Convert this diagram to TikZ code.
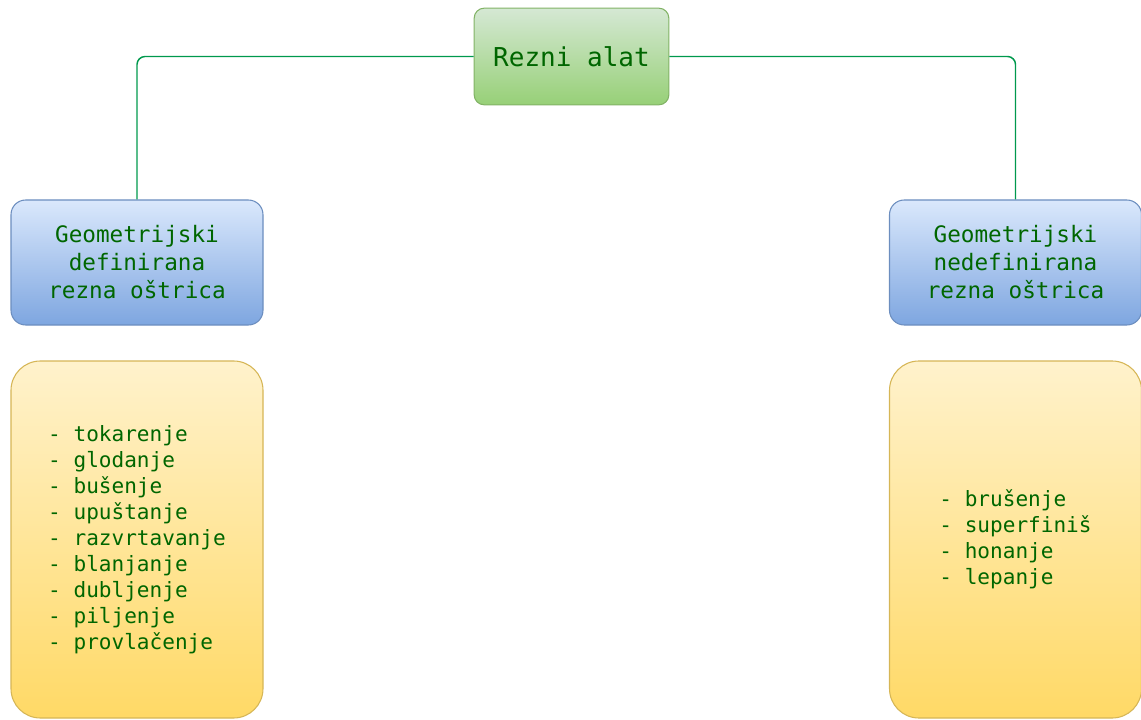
\documentclass[tikz,border=0pt]{standalone}
\usepackage{fontspec}
\setmonofont{DejaVu Sans Mono}
\usepackage{tikz}

\definecolor{txtgreen}{RGB}{0,102,0}
\definecolor{linegreen}{RGB}{0,153,77}
\tikzset{
  rootbox/.style={draw={rgb,255:red,130;green,179;blue,102}, line width=0.8pt, top color={rgb,255:red,213;green,232;blue,212}, bottom color={rgb,255:red,151;green,208;blue,119}, rounded corners=7.5pt, minimum width=146pt, minimum height=72.5pt, inner sep=0pt, text=txtgreen, font=\ttfamily\fontsize{19.5}{23}\selectfont},
  kindbox/.style={draw={rgb,255:red,108;green,142;blue,191}, line width=0.8pt, top color={rgb,255:red,218;green,232;blue,252}, bottom color={rgb,255:red,126;green,166;blue,224}, rounded corners=11pt, minimum width=189pt, minimum height=93.75pt, inner sep=0pt, align=center, text=txtgreen, font=\ttfamily\fontsize{17}{21}\selectfont},
  listbox/.style={draw={rgb,255:red,214;green,182;blue,86}, line width=0.8pt, top color={rgb,255:red,255;green,242;blue,204}, bottom color={rgb,255:red,255;green,217;blue,102}, rounded corners=22pt, minimum width=189pt, minimum height=267.75pt, inner sep=0pt, align=left, text=txtgreen, font=\ttfamily\fontsize{15.8}{19.5}\selectfont},
  link/.style={draw=linegreen, line width=1.1pt, rounded corners=6pt}
}

\begin{document}
\begin{tikzpicture}[x=0.75pt,y=0.75pt,yscale=-1,xscale=1]
\useasboundingbox (0,0) rectangle (1141,720);

%Shape: Root
\node [rootbox] (root) at (571.5,56.5) {Rezni alat};

%Shape: Kinds
\node [kindbox] (geo) at (137,262.5) {Geometrijski\\definirana\\rezna oštrica};
\node [kindbox] (ngeo) at (1015.5,262.5) {Geometrijski\\nedefinirana\\rezna oštrica};

%Shape: Lists
\node [listbox] (geolist) at (137,539.5) {- tokarenje\\- glodanje\\- bušenje\\- upuštanje\\- razvrtavanje\\- blanjanje\\- dubljenje\\- piljenje\\- provlačenje};
\node [listbox] (ngeolist) at (1015.5,539.5) {- brušenje\\- superfiniš\\- honanje\\- lepanje};

% Connectors
\draw [link] (root.west) -| (geo.north);
\draw [link] (root.east) -| (ngeo.north);

\end{tikzpicture}
\end{document}
